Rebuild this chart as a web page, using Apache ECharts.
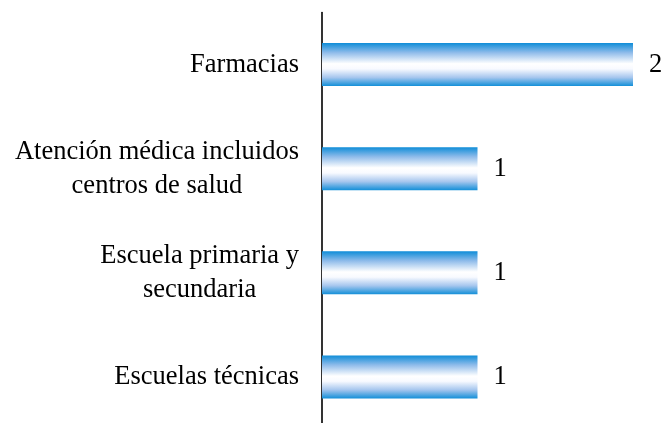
<!DOCTYPE html>
<html>
<head>
<meta charset="utf-8">
<script src="https://cdn.jsdelivr.net/npm/echarts@6/dist/echarts.min.js"></script>
<style>
  html, body { margin: 0; padding: 0; background: #fff; overflow: hidden; }
  #chart { width: 664px; height: 429px; }
</style>
</head>
<body>
<div id="chart"></div>
<script>
var categories = ['Farmacias', 'Atención médica incluidos\ncentros de salud', 'Escuela primaria y\nsecundaria', 'Escuelas técnicas'];
var values = [2, 1, 1, 1];

var chart = echarts.init(document.getElementById('chart'));
var font = '"Liberation Serif", "Times New Roman", serif';

var barColor = new echarts.graphic.LinearGradient(0, 0, 0, 1, [
  { offset: 0, color: '#0f8dd8' },
  { offset: 0.22, color: '#8ebbea' },
  { offset: 0.48, color: '#ffffff' },
  { offset: 0.6, color: '#f8faff' },
  { offset: 0.8, color: '#a6c6ee' },
  { offset: 1, color: '#138fd8' }
]);

var option = {
  animation: false,
  grid: { left: 322, right: 31, top: 12.5, bottom: 0 },
  xAxis: {
    type: 'value',
    min: 0,
    max: 2,
    show: false
  },
  yAxis: {
    type: 'category',
    data: categories,
    inverse: true,
    axisLine: { show: true, lineStyle: { color: '#000', width: 1.6 } },
    axisTick: { show: false },
    splitLine: { show: false },
    axisLabel: {
      margin: 23,
      formatter: function (v) {
        return v.split('\n').map(function (s) { return '{c|' + s + '}'; }).join('\n');
      },
      rich: {
        c: { align: 'center', fontFamily: font, fontSize: 26.5, lineHeight: 34, color: '#000' }
      }
    }
  },
  series: [{
    type: 'bar',
    data: values,
    barWidth: 43,
    itemStyle: { color: barColor },
    label: {
      show: true,
      position: 'right',
      distance: 16,
      fontFamily: font,
      fontSize: 26.5,
      color: '#000'
    }
  }]
};

chart.setOption(option);
</script>
</body>
</html>
